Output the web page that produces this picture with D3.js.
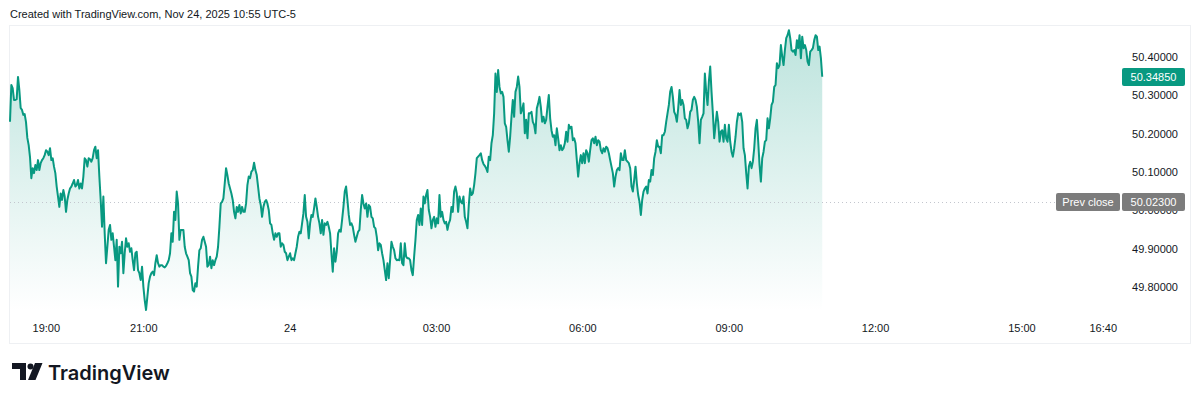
<!DOCTYPE html>
<html>
<head>
<meta charset="utf-8">
<script src="https://cdn.jsdelivr.net/npm/d3@7"></script>
<style>
  body { margin: 0; background: #fff; }
  svg { display: block; font-family: "Liberation Sans", Arial, sans-serif; }
</style>
</head>
<body>
<svg id="chart" width="1200" height="401"></svg>
<script>
// usd/rub-ish intraday snapshot
var firstBar = '2025-11-23T18:16';
var lastBar = '2025-11-24T10:55';
var axisEnd = '2025-11-24T17:00';

var prices = [
  50.231, 50.327, 50.319, 50.288, 50.288, 50.290, 50.348, 50.314, 50.267, 50.262, 50.249, 50.251, 50.230, 50.189, 50.170, 50.139, 50.084, 50.110,
  50.097, 50.118, 50.105, 50.131, 50.105, 50.123, 50.131, 50.136, 50.144, 50.157, 50.153, 50.144, 50.162, 50.131, 50.136, 50.114,
  50.097, 50.062, 50.036, 50.009, 50.044, 50.027, 50.053, 50.036, 49.996, 50.027, 50.044, 50.057, 50.062, 50.070, 50.079, 50.062,
  50.066, 50.079, 50.057, 50.070, 50.057, 50.088, 50.136, 50.131, 50.114, 50.136, 50.133, 50.127, 50.136, 50.157, 50.166, 50.136,
  50.157, 50.088, 50.027, 49.957, 50.036, 49.940, 49.862, 49.905, 49.949, 49.962, 49.923, 49.940, 49.905, 49.870, 49.923, 49.801,
  49.905, 49.888, 49.918, 49.836, 49.888, 49.927, 49.905, 49.914, 49.892, 49.901, 49.870, 49.844, 49.888, 49.892, 49.844, 49.836,
  49.818, 49.853, 49.801, 49.766, 49.740, 49.775, 49.810, 49.827, 49.836, 49.840, 49.831, 49.862, 49.883, 49.862, 49.853, 49.857,
  49.857, 49.853, 49.851, 49.855, 49.862,
  49.870, 49.888, 49.940, 49.918, 49.996, 49.975, 50.049, 50.018, 49.923, 49.949, 49.949, 49.949, 49.905, 49.888, 49.879, 49.870,
  49.836, 49.827, 49.792, 49.788, 49.810, 49.801, 49.853, 49.896, 49.901, 49.923, 49.931, 49.918, 49.905, 49.853, 49.857, 49.879,
  49.849, 49.870, 49.857, 49.870, 49.879, 49.905, 49.957, 50.018, 50.022, 50.031, 50.070, 50.110, 50.092, 50.070, 50.057, 50.044,
  50.027, 49.996, 49.979, 50.009, 49.996, 50.014, 49.992, 50.009, 49.996, 49.996, 50.018, 50.066, 50.088, 50.084, 50.101, 50.105,
  50.124, 50.105, 50.092, 50.062, 50.031, 50.014, 49.983, 50.009, 50.022, 50.027, 50.018, 50.001, 49.966, 49.962, 49.940, 49.923,
  49.940, 49.931, 49.940, 49.940, 49.905, 49.914, 49.910, 49.892, 49.888, 49.870, 49.879, 49.888, 49.870, 49.875, 49.870, 49.888,
  49.905, 49.931, 49.944, 49.940, 49.966, 49.992, 50.040, 49.983, 49.970, 49.927, 49.966, 49.988, 49.983, 50.005, 50.031, 50.009,
  49.983, 49.966, 49.940,
  49.975, 49.936, 49.966, 49.962, 49.970, 49.957, 49.940, 49.888, 49.840, 49.901, 49.866, 49.892, 49.940, 49.949, 49.944, 49.975,
  50.009, 50.049, 50.062, 50.027, 49.988, 49.962, 49.966, 49.957, 49.936, 49.918, 49.931, 49.944, 49.949, 50.001, 50.040, 50.018,
  50.005, 50.018, 49.983, 50.014, 50.009, 49.983, 49.979, 49.957, 49.953, 49.931, 49.896, 49.914, 49.910, 49.888, 49.870, 49.844,
  49.818, 49.862, 49.823, 49.870, 49.918, 49.905, 49.896, 49.875, 49.870, 49.871, 49.870, 49.914, 49.862, 49.857, 49.914, 49.879,
  49.875, 49.875, 49.870, 49.844, 49.831, 49.879, 49.923, 49.975, 49.988, 49.962, 50.005, 49.962, 50.036, 50.018, 50.040, 50.053,
  50.001, 49.983, 49.953, 49.975, 49.983, 49.957, 49.979, 49.966, 50.040, 49.983, 49.996, 49.975, 49.966, 49.970, 49.949, 49.966,
  49.975, 50.009, 49.996, 50.049, 50.062, 50.044, 49.996, 50.036, 50.022, 50.018, 50.036, 49.983, 49.970, 49.953, 50.014, 50.057,
  50.040, 50.044, 50.066, 50.097, 50.136, 50.140, 50.144, 50.149, 50.131,
  50.121, 50.116, 50.110, 50.100,
  50.140, 50.131, 50.175, 50.196, 50.253, 50.357, 50.309, 50.366, 50.322, 50.305, 50.309, 50.296, 50.227, 50.218, 50.183, 50.153,
  50.192, 50.244, 50.288, 50.244, 50.309, 50.322, 50.349, 50.322, 50.253, 50.262, 50.279, 50.201, 50.236, 50.188, 50.253, 50.253,
  50.257, 50.231, 50.223, 50.201, 50.266, 50.279, 50.296, 50.270, 50.231, 50.244, 50.227, 50.236, 50.270, 50.301, 50.240, 50.209,
  50.192, 50.196, 50.170, 50.214, 50.188, 50.157, 50.170, 50.157, 50.162, 50.175, 50.205, 50.179, 50.223, 50.214, 50.218, 50.183,
  50.188, 50.175, 50.131, 50.088, 50.123, 50.144, 50.123, 50.149, 50.123, 50.157, 50.149, 50.127, 50.157, 50.183, 50.188, 50.175,
  50.192, 50.170, 50.183, 50.179, 50.157, 50.149, 50.162, 50.153, 50.166, 50.162, 50.149, 50.131, 50.114, 50.097, 50.062, 50.088,
  50.105, 50.110, 50.105, 50.149, 50.131, 50.131, 50.157, 50.131, 50.127, 50.123, 50.110, 50.062, 50.049, 50.079, 50.114, 50.070,
  50.040, 50.022, 49.988, 50.027, 50.049, 50.057, 50.062, 50.044,
  50.079, 50.075, 50.105, 50.092, 50.136, 50.153, 50.183, 50.166, 50.166, 50.149, 50.196, 50.196, 50.205, 50.231, 50.253, 50.275,
  50.309, 50.322, 50.296, 50.257, 50.249, 50.231, 50.266, 50.314, 50.275, 50.288, 50.275, 50.240, 50.236, 50.214, 50.227, 50.257,
  50.262, 50.288, 50.296, 50.288, 50.270, 50.231, 50.175, 50.236, 50.244, 50.253, 50.357, 50.309, 50.275, 50.336, 50.375, 50.309,
  50.253, 50.188, 50.223, 50.257, 50.231, 50.179, 50.205, 50.209, 50.179, 50.223, 50.188, 50.179, 50.223, 50.179, 50.153, 50.140,
  50.162, 50.192, 50.231, 50.253, 50.249, 50.253, 50.231, 50.162, 50.144, 50.097, 50.057, 50.114, 50.127, 50.110, 50.127, 50.162,
  50.214, 50.236, 50.179, 50.118, 50.075, 50.136, 50.153, 50.179, 50.183, 50.240, 50.214, 50.240, 50.275, 50.283, 50.322, 50.327,
  50.384, 50.371, 50.379, 50.431, 50.401, 50.379, 50.418, 50.449, 50.457, 50.470, 50.449, 50.418, 50.414, 50.418, 50.405, 50.444,
  50.423, 50.457, 50.397, 50.453, 50.423, 50.431, 50.418, 50.388, 50.379, 50.414, 50.418, 50.423, 50.444, 50.457, 50.453, 50.418,
  50.427, 50.397, 50.3485
];

var prevClose = 50.023;
var priceTicks = [49.8, 49.9, 50.0, 50.1, 50.2, 50.3, 50.4];
var timeTicks = ['2025-11-23T19:00', '2025-11-23T21:00', '2025-11-24T00:00', '2025-11-24T03:00',
  '2025-11-24T06:00', '2025-11-24T09:00', '2025-11-24T12:00', '2025-11-24T15:00', '2025-11-24T16:40'];
var timeLabels = ['19:00', '21:00', '24', '03:00', '06:00', '09:00', '12:00', '15:00', '16:40'];

var GREEN = '#089981';
var INK = '#131722';

var parse = d3.timeParse('%Y-%m-%dT%H:%M');
var t0 = parse(firstBar), t1 = parse(lastBar);

// bars are evenly spaced between first and last
var bars = prices.map(function(p, i) {
  return {
    date: new Date(+t0 + (t1 - t0) * i / (prices.length - 1)),
    price: p
  };
});

var svg = d3.select('#chart');

// pane geometry
var paneTop = 26, paneBottom = 312;

var x = d3.scaleTime()
  .domain([t0, parse(axisEnd)])
  .range([10, 1119]);
var y = d3.scaleLinear()
  .domain([49.8, 50.4])
  .range([287, 57]);

// caption on top
svg.append('text')
  .attr('x', 10)
  .attr('y', 18)
  .attr('font-size', 11)
  .attr('fill', INK)
  .text('Created with TradingView.com, Nov 24, 2025 10:55 UTC-5');

// frame around the chart
svg.append('rect')
  .attr('x', 9.5)
  .attr('y', paneTop - 0.5)
  .attr('width', 1181)
  .attr('height', 318)
  .attr('fill', 'none')
  .attr('stroke', '#eef0f3');

// area gradient
var defs = svg.append('defs');
var grad = defs.append('linearGradient')
  .attr('id', 'fade')
  .attr('gradientUnits', 'userSpaceOnUse')
  .attr('x1', 0).attr('x2', 0)
  .attr('y1', y(d3.max(prices)))
  .attr('y2', paneBottom);
grad.append('stop').attr('offset', 0).attr('stop-color', GREEN).attr('stop-opacity', 0.27);
grad.append('stop').attr('offset', 1).attr('stop-color', GREEN).attr('stop-opacity', 0);

var area = d3.area()
  .x(function(d) { return x(d.date); })
  .y0(paneBottom)
  .y1(function(d) { return y(d.price); });
var line = d3.line()
  .x(function(d) { return x(d.date); })
  .y(function(d) { return y(d.price); });

svg.append('path')
  .datum(bars)
  .attr('d', area)
  .attr('fill', 'url(#fade)');

// previous close, dotted
svg.append('line')
  .attr('x1', 10)
  .attr('x2', 1056)
  .attr('y1', Math.round(y(prevClose)) + 0.5)
  .attr('y2', Math.round(y(prevClose)) + 0.5)
  .attr('stroke', '#c3c6ce')
  .attr('stroke-dasharray', '1,3');

svg.append('path')
  .datum(bars)
  .attr('d', line)
  .attr('fill', 'none')
  .attr('stroke', GREEN)
  .attr('stroke-width', 2)
  .attr('stroke-linejoin', 'round');

// price scale on the right
var yAxis = svg.append('g')
  .attr('transform', 'translate(1178,0)')
  .call(d3.axisRight(y)
    .tickValues(priceTicks)
    .tickFormat(d3.format('.5f'))
    .tickSize(0)
    .tickPadding(0));
yAxis.select('.domain').remove();
yAxis.selectAll('text')
  .attr('text-anchor', 'end')
  .attr('font-family', 'Liberation Sans, Arial, sans-serif')
  .attr('font-size', 11)
  .attr('fill', INK);

// time scale at the bottom
var xAxis = svg.append('g')
  .attr('transform', 'translate(0,324)')
  .call(d3.axisBottom(x)
    .tickValues(timeTicks.map(parse))
    .tickFormat(function(d, i) { return timeLabels[i]; })
    .tickSize(0)
    .tickPadding(0));
xAxis.select('.domain').remove();
xAxis.selectAll('text')
  .attr('font-family', 'Liberation Sans, Arial, sans-serif')
  .attr('font-size', 11)
  .attr('fill', INK);

// price badges
function badge(x0, w, value, text, color) {
  var cy = Math.round(y(value));
  svg.append('rect')
    .attr('x', x0)
    .attr('y', cy - 9)
    .attr('width', w)
    .attr('height', 18)
    .attr('rx', 2)
    .attr('fill', color);
  svg.append('text')
    .attr('x', x0 + w / 2)
    .attr('y', cy)
    .attr('dy', '0.35em')
    .attr('text-anchor', 'middle')
    .attr('font-size', 11)
    .attr('fill', '#fff')
    .text(text);
}

var fmt = d3.format('.5f');
var last = prices[prices.length - 1];
badge(1122, 63, last, fmt(last), GREEN);
badge(1056, 64, prevClose, 'Prev close', '#7c7c7c');
badge(1122, 63, prevClose, fmt(prevClose), '#7c7c7c');

// tradingview mark
var logo = svg.append('g').attr('fill', INK);
logo.append('path').attr('d', 'M12 363h14v17h-6v-11h-8z');
logo.append('circle').attr('cx', 30.5).attr('cy', 366.5).attr('r', 3);
logo.append('path').attr('d', 'M35 363h7.5l-7 17h-7.5z');
logo.append('text')
  .attr('x', 48)
  .attr('y', 380)
  .attr('font-family', 'Inter, "Noto Sans", sans-serif')
  .attr('font-weight', 600)
  .attr('font-size', 20)
  .text('TradingView');
</script>
</body>
</html>
